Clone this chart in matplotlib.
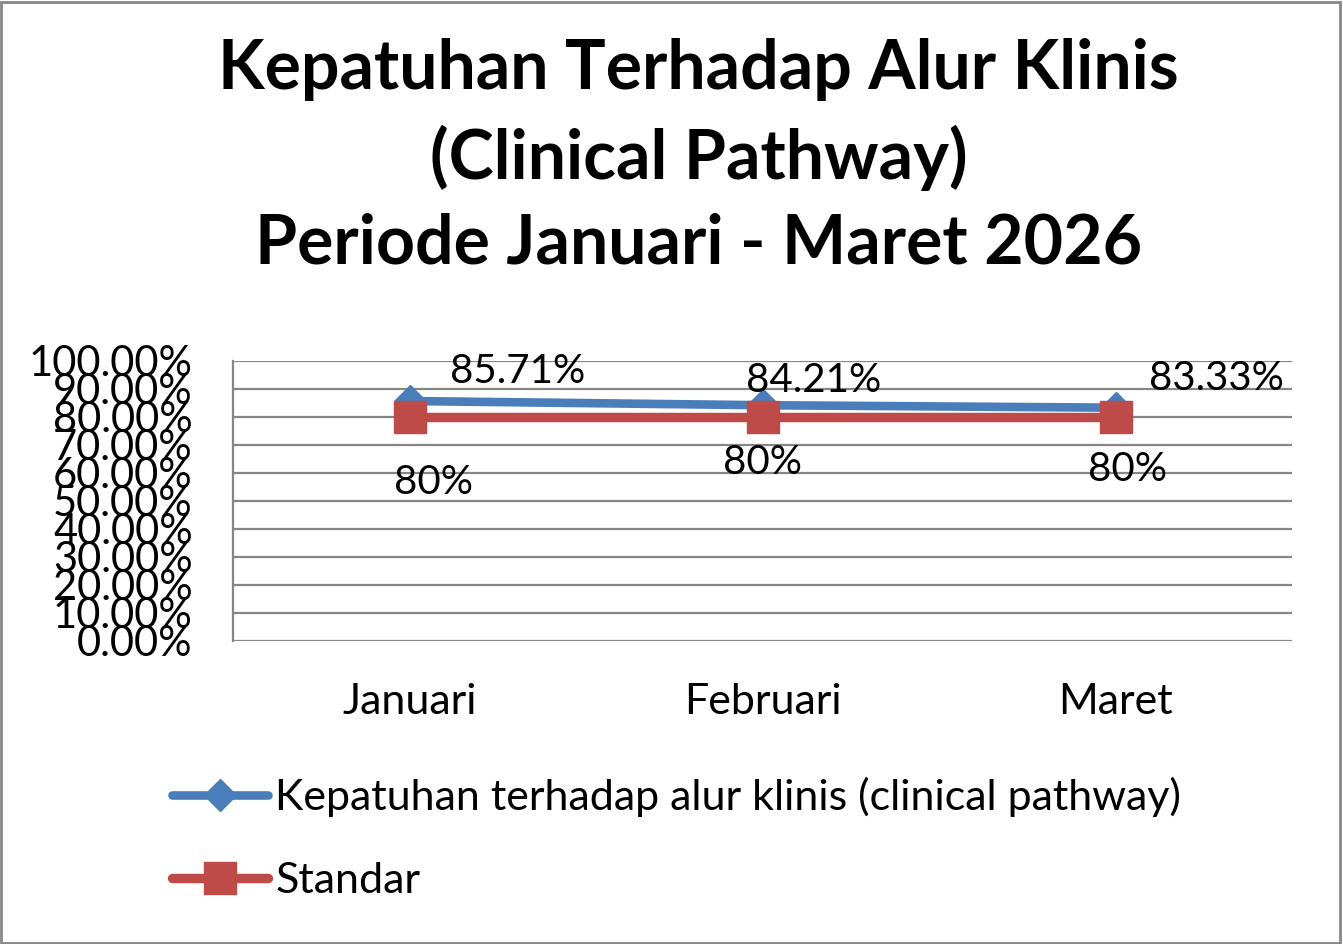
import matplotlib
matplotlib.use("Agg")
import matplotlib.pyplot as plt
from matplotlib.patches import Rectangle
from matplotlib.ticker import FuncFormatter

# data
bulan = ["Januari", "Februari", "Maret"]
kepatuhan = [0.8571, 0.8421, 0.8333]
standar = [0.80, 0.80, 0.80]
label_kepatuhan = ["85.71%", "84.21%", "83.33%"]
label_standar = ["80%", "80%", "80%"]
yticks = [0.0, 0.1, 0.2, 0.3, 0.4, 0.5, 0.6, 0.7, 0.8, 0.9, 1.0]

plt.rcParams["font.family"] = ["Lato", "DejaVu Sans"]

biru = "#4A7EBB"
merah = "#BE4B48"
abu = "#868686"

fig = plt.figure(figsize=(13.43, 9.44), dpi=100)
ax = fig.add_axes([233/1343, 1 - 641/944, (1292-233)/1343, (641-361)/944])

x = list(range(len(bulan)))
ax.plot(x, kepatuhan, color=biru, lw=6.2, marker="D", ms=16, mfc=biru, mec=biru,
        solid_capstyle="round", zorder=3,
        label="Kepatuhan terhadap alur klinis (clinical pathway)")
ax.plot(x, standar, color=merah, lw=6.8, marker="s", ms=23, mfc=merah, mec=merah,
        solid_capstyle="round", zorder=4, label="Standar")

# label data (posisi meniru Excel)
off_biru = [(78, 21), (37, 18), (73, 21)]
off_merah = [(17, -47), (0, -33), (9, -38)]
for i in x:
    ax.annotate(label_kepatuhan[i], (i, kepatuhan[i]), xytext=off_biru[i],
                textcoords="offset points", ha="center", va="center", fontsize=29)
    ax.annotate(label_standar[i], (i, standar[i]), xytext=off_merah[i],
                textcoords="offset points", ha="center", va="center", fontsize=29)

ax.set_xlim(-0.5, 2.5)
ax.set_ylim(0, 1)
ax.set_yticks(yticks)
ax.yaxis.set_major_formatter(FuncFormatter(lambda v, p: f"{v*100:.2f}%"))
ax.set_xticks(x)
ax.set_xticklabels(bulan)
ax.tick_params(axis="y", length=0, pad=29, labelsize=30)
ax.tick_params(axis="x", length=0, pad=30, labelsize=31)
ax.grid(axis="y", color=abu, lw=1.6)
ax.set_axisbelow(True)
for s in ["top", "right", "bottom"]:
    ax.spines[s].set_visible(False)
ax.spines["left"].set_color(abu)
ax.spines["left"].set_linewidth(1.6)

fig.text(0.520, 1 - 157/944,
         "Kepatuhan Terhadap Alur Klinis\n(Clinical Pathway)\nPeriode Januari - Maret 2026",
         ha="center", va="center", fontsize=49, fontweight="bold", linespacing=1.43)

leg = fig.legend(loc="upper left", bbox_to_anchor=(155/1343, 1 - 760/944), frameon=False,
                 fontsize=31, handlelength=2.23, handletextpad=0.16, labelspacing=1.03,
                 borderaxespad=0)

# bingkai luar
fig.patches.append(Rectangle((0.001, 0.001), 0.997, 0.997, transform=fig.transFigure,
                             fill=False, edgecolor=abu, lw=2))

fig.savefig("out.png", dpi=100)
